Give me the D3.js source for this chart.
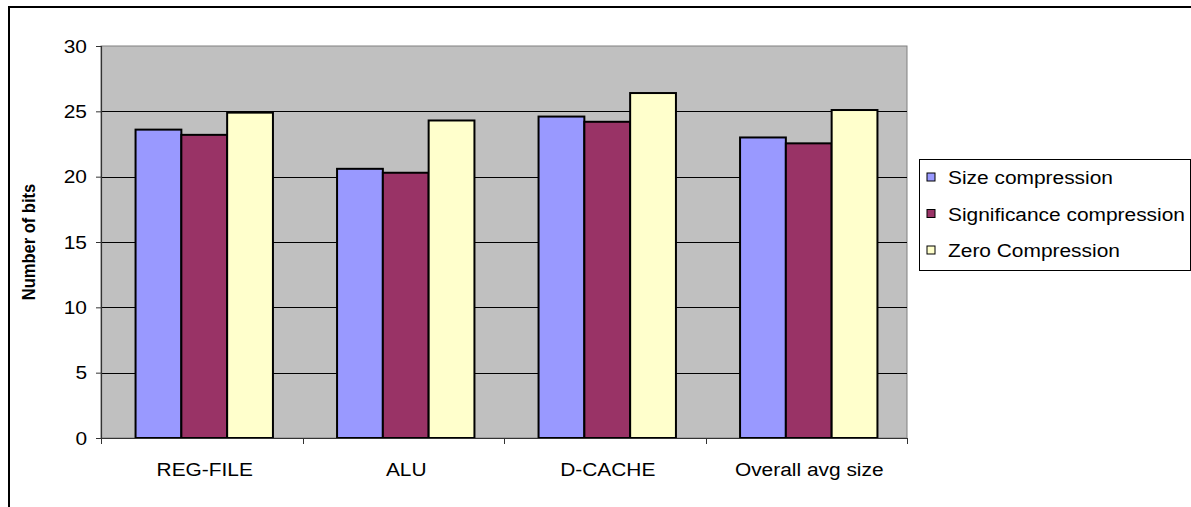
<!DOCTYPE html>
<html>
<head>
<meta charset="utf-8">
<script src="https://cdn.jsdelivr.net/npm/d3@7"></script>
<style>
  html, body { margin: 0; padding: 0; background: #fff; }
  svg { display: block; }
  text { font-family: "Liberation Sans", Arial, sans-serif; fill: #000; }
</style>
</head>
<body>
<svg id="chart" width="1191" height="507"></svg>
<script>
// Average number of bits per value under three compression schemes
const categories = ["REG-FILE", "ALU", "D-CACHE", "Overall avg size"];
const seriesNames = ["Size compression", "Significance compression", "Zero Compression"];
const sizeCompression = [23.6, 20.6, 24.6, 23.0];
const significanceCompression = [23.2, 20.3, 24.2, 22.55];
const zeroCompression = [24.9, 24.3, 26.4, 25.1];
const yTicks = [0, 5, 10, 15, 20, 25, 30];
const seriesColors = ["#9999FF", "#993366", "#FFFFCC"];

const seriesValues = [sizeCompression, significanceCompression, zeroCompression];
const rows = categories.map((c, i) => ({
  category: c,
  values: seriesNames.map((s, k) => ({ series: s, value: seriesValues[k][i], k }))
}));

const svg = d3.select("#chart");
const SX = 1.1; // text is drawn slightly widened horizontally
const fontSize = 19;

const plot = { left: 101, right: 907, top: 46, bottom: 438 };

// Outer chart frame (runs off the right and bottom edges)
svg.append("rect")
  .attr("x", 9).attr("y", 7)
  .attr("width", 1240).attr("height", 560)
  .attr("fill", "none").attr("stroke", "#000").attr("stroke-width", 2);

const y = d3.scaleLinear().domain([0, 30]).range([plot.bottom, plot.top]);
const x0 = d3.scaleBand().domain(categories).range([plot.left, plot.right]).paddingInner(0).paddingOuter(0);
const x1 = d3.scaleBand().domain(seriesNames).range([2.5, x0.bandwidth() + 2.5]).paddingInner(0).paddingOuter(0.7);
const color = d3.scaleOrdinal().domain(seriesNames).range(seriesColors);

// Plot area background
svg.append("rect")
  .attr("x", plot.left).attr("y", plot.top)
  .attr("width", plot.right - plot.left).attr("height", plot.bottom - plot.top)
  .attr("fill", "#C0C0C0").attr("stroke", "#808080").attr("stroke-width", 1);

// Horizontal gridlines
svg.append("g").selectAll("line")
  .data(yTicks.filter(t => t > 0 && t < 30))
  .join("line")
  .attr("x1", plot.left).attr("x2", plot.right)
  .attr("y1", d => Math.round(y(d)) + 0.5).attr("y2", d => Math.round(y(d)) + 0.5)
  .attr("stroke", "#000").attr("stroke-width", 1);

// Bars
const groups = svg.append("g").selectAll("g")
  .data(rows)
  .join("g")
  .attr("transform", d => `translate(${x0(d.category)},0)`);

groups.selectAll("rect")
  .data(d => d.values)
  .join("rect")
  .attr("x", d => x1(d.series))
  .attr("width", x1.bandwidth())
  .attr("y", d => y(d.value))
  .attr("height", d => y(0) - y(d.value))
  .attr("fill", d => color(d.series))
  .attr("stroke", "#000").attr("stroke-width", 2);

// Y axis
const yAxis = svg.append("g")
  .attr("transform", `translate(${plot.left},0)`)
  .call(d3.axisLeft(y).tickValues(yTicks).tickSize(5).tickPadding(9).tickFormat(d3.format("d")));
yAxis.select(".domain").attr("stroke", "#333").attr("stroke-width", 1.2);
yAxis.selectAll(".tick line").attr("stroke", "#333");
yAxis.selectAll(".tick text")
  .attr("font-size", fontSize)
  .attr("font-family", "Liberation Sans, Arial, sans-serif")
  .attr("fill", "#000")
  .each(function () {
    const t = d3.select(this);
    const xx = +t.attr("x");
    t.attr("x", xx / SX).attr("transform", `scale(${SX},1)`);
  });

// X axis with ticks on category boundaries
const xAxisG = svg.append("g").attr("transform", `translate(0,${plot.bottom})`);
xAxisG.append("line")
  .attr("x1", plot.left).attr("x2", plot.right)
  .attr("y1", 0.5).attr("y2", 0.5)
  .attr("stroke", "#333").attr("stroke-width", 1.2);
const boundaries = categories.map(c => x0(c)).concat([x0.range()[1]]);
xAxisG.selectAll("line.tick")
  .data(boundaries)
  .join("line")
  .attr("class", "tick")
  .attr("x1", d => Math.round(d) + 0.5).attr("x2", d => Math.round(d) + 0.5)
  .attr("y1", 0).attr("y2", 6)
  .attr("stroke", "#333");
xAxisG.selectAll("text")
  .data(categories)
  .join("text")
  .attr("transform", d => `translate(${x0(d) + x0.bandwidth() / 2 + 3},38) scale(${SX},1)`)
  .attr("text-anchor", "middle")
  .attr("font-size", fontSize)
  .text(d => d);

// Y axis title
svg.append("text")
  .attr("transform", `translate(35,242) rotate(-90) scale(1,${SX})`)
  .attr("text-anchor", "middle")
  .attr("font-size", 16.5)
  .attr("font-weight", "bold")
  .text("Number of bits");

// Legend
const legend = svg.append("g").attr("transform", "translate(919,159)");
legend.append("rect")
  .attr("x", 0.5).attr("y", 0.5)
  .attr("width", 271).attr("height", 111)
  .attr("fill", "#fff").attr("stroke", "#000").attr("stroke-width", 1);
const items = legend.selectAll("g.item")
  .data(seriesNames)
  .join("g")
  .attr("class", "item")
  .attr("transform", (d, i) => `translate(0,${18 + i * 36.5})`);
items.append("rect")
  .attr("x", 8).attr("y", -4)
  .attr("width", 8).attr("height", 8)
  .attr("fill", d => color(d))
  .attr("stroke", "#000").attr("stroke-width", 1);
items.append("text")
  .attr("transform", `translate(29,7) scale(${SX},1)`)
  .attr("font-size", fontSize)
  .text(d => d);
</script>
</body>
</html>
